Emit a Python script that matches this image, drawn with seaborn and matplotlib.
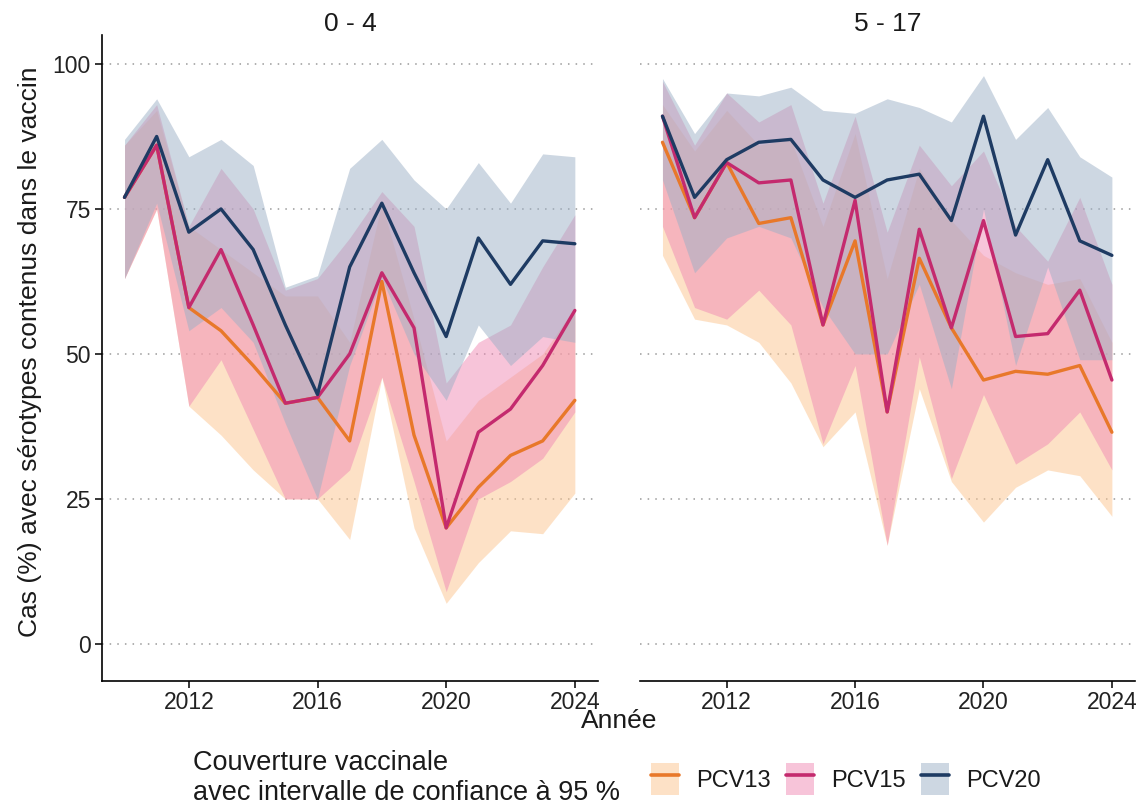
import numpy as np
import pandas as pd
import matplotlib
matplotlib.use("Agg")
import matplotlib.pyplot as plt
from matplotlib.lines import Line2D
from matplotlib.patches import Patch
import seaborn as sns

# --- data ---
years = list(range(2010, 2025))
groups = ["0 - 4", "5 - 17"]
vaccines = ["PCV13", "PCV15", "PCV20"]

# 0 - 4 ans
pcv13_04 = [77, 86, 58, 54, 48, 41.5, 42.5, 35, 62.5, 36, 20, 27, 32.5, 35, 42]
pcv13_04_lo = [63, 75, 41, 36, 30, 25, 25, 18, 46, 20, 7, 14, 19.5, 19, 26]
pcv13_04_hi = [86, 92, 72, 68, 64, 60, 60, 52, 76, 56, 35, 42, 46, 50, 58]
pcv15_04 = [77, 86, 58, 68, 55, 41.5, 42.5, 50, 64, 54.5, 20, 36.5, 40.5, 48, 57.5]
pcv15_04_lo = [63, 75, 41, 49, 37, 25, 25, 30, 46, 28, 9, 25, 28, 32, 40]
pcv15_04_hi = [86, 93, 72, 82, 75, 61, 63, 70, 78, 72, 45, 52, 55, 65, 74]
pcv20_04 = [77, 87.5, 71, 75, 68, 55, 43, 65, 76, 64, 53, 70, 62, 69.5, 69]
pcv20_04_lo = [63, 76, 54, 58, 52, 38, 25, 48, 63, 50, 42, 55, 48, 53, 52]
pcv20_04_hi = [87, 94, 84, 87, 82.5, 61.5, 63.5, 82, 87, 80, 75, 83, 76, 84.5, 84]

# 5 - 17 ans
pcv13_517 = [86.5, 73.5, 83, 72.5, 73.5, 55, 69.5, 40, 66.5, 54.5, 45.5, 47, 46.5, 48, 36.5]
pcv13_517_lo = [67, 56, 55, 52, 45, 34, 40, 17, 44, 28, 21, 27, 30, 29, 22]
pcv13_517_hi = [93, 85, 92, 86, 87, 72, 88, 63, 82, 73, 67, 64, 62, 63, 52]
pcv15_517 = [91, 73.5, 83, 79.5, 80, 55, 76.5, 40, 71.5, 54.5, 73, 53, 53.5, 61, 45.5]
pcv15_517_lo = [72, 58, 56, 61, 55, 34.5, 48, 17, 49.5, 28.5, 43, 31, 34.5, 40, 30]
pcv15_517_hi = [97, 86, 95, 90, 93, 76, 91, 71, 86, 79, 85, 72, 66, 77, 62]
pcv20_517 = [91, 77, 83.5, 86.5, 87, 80, 77, 80, 81, 73, 91, 70.5, 83.5, 69.5, 67]
pcv20_517_lo = [80, 64, 70, 72, 70, 58, 50, 50, 62, 44, 75, 48, 65, 49, 49]
pcv20_517_hi = [97.5, 88, 95, 94.5, 96, 92, 91.5, 94, 92.5, 90, 98, 87, 92.5, 84, 80.5]

line_colors = {"PCV13": "#E8782A", "PCV15": "#C42A6E", "PCV20": "#1E3B63"}
band_colors = {"PCV13": "#FCC58F", "PCV15": "#F08AB5", "PCV20": "#9CB0C6"}

series = {
    ("0 - 4", "PCV13"): (pcv13_04, pcv13_04_lo, pcv13_04_hi),
    ("0 - 4", "PCV15"): (pcv15_04, pcv15_04_lo, pcv15_04_hi),
    ("0 - 4", "PCV20"): (pcv20_04, pcv20_04_lo, pcv20_04_hi),
    ("5 - 17", "PCV13"): (pcv13_517, pcv13_517_lo, pcv13_517_hi),
    ("5 - 17", "PCV15"): (pcv15_517, pcv15_517_lo, pcv15_517_hi),
    ("5 - 17", "PCV20"): (pcv20_517, pcv20_517_lo, pcv20_517_hi),
}

rows = []
for (grp, vac), (val, lo, hi) in series.items():
    for y, v, l, h in zip(years, val, lo, hi):
        rows.append({"groupe": grp, "vaccin": vac, "annee": y, "val": v, "lo": l, "hi": h})
df = pd.DataFrame(rows)

sns.set_theme(style="white")
plt.rcParams["font.family"] = ["Liberation Sans", "DejaVu Sans"]

W, H = 1142, 806
fig = plt.figure(figsize=(W / 100, H / 100), dpi=100)
ax_l = fig.add_axes([102 / W, 1 - 681 / H, 496 / W, 646 / H])
ax_r = fig.add_axes([640 / W, 1 - 681 / H, 495 / W, 646 / H])

band_alpha = 0.5
for ax, grp in zip([ax_l, ax_r], groups):
    sub = df[df["groupe"] == grp]
    for vac in vaccines:
        d = sub[sub["vaccin"] == vac]
        ax.fill_between(d["annee"], d["lo"], d["hi"], color=band_colors[vac],
                        alpha=band_alpha, linewidth=0, zorder=1)
    sns.lineplot(data=sub, x="annee", y="val", hue="vaccin", palette=line_colors,
                 hue_order=vaccines, linewidth=2.4, legend=False, ax=ax, zorder=3)
    ax.set_xlim(2009.3, 2024.72)
    ax.set_ylim(-6.4, 105)
    ax.set_xticks([2012, 2016, 2020, 2024])
    ax.set_yticks([0, 25, 50, 75, 100])
    for yv in [0, 25, 50, 75, 100]:
        ax.axhline(yv, color="#9a9a9a", linestyle=(0, (1, 4)), linewidth=1.1, zorder=0)
    ax.set_title(grp, fontsize=19, pad=3, color="#1a1a1a")
    ax.set_xlabel("")
    ax.set_ylabel("")
    for s in ["top", "right"]:
        ax.spines[s].set_visible(False)
    ax.spines["bottom"].set_color("black")
    ax.spines["bottom"].set_linewidth(1.2)
    ax.tick_params(axis="x", length=5, width=1.1, color="black", labelsize=16.5,
                   labelcolor="#222222", bottom=True, pad=2)

ax_l.spines["left"].set_color("black")
ax_l.spines["left"].set_linewidth(1.2)
ax_l.tick_params(axis="y", length=5, width=1.1, color="black", labelsize=16.5,
                 labelcolor="#222222", left=True, pad=3)
ax_r.spines["left"].set_visible(False)
ax_r.tick_params(axis="y", left=False, labelleft=False)

fig.text(30 / W, 1 - 352 / H, "Cas (%) avec sérotypes contenus dans le vaccin",
         rotation=90, ha="center", va="center", fontsize=19, color="#1a1a1a")
fig.text(619 / W, 1 - 721 / H, "Année", ha="center", va="center", fontsize=19,
         color="#1a1a1a")

fig.text(193 / W, 1 - 778 / H, "Couverture vaccinale\navec intervalle de confiance à 95 %",
         ha="left", va="center", fontsize=19.5, linespacing=1.2, color="#1a1a1a")

handles = [(Patch(facecolor=band_colors[v], alpha=band_alpha, edgecolor="none"),
            Line2D([0], [0], color=line_colors[v], linewidth=2.6)) for v in vaccines]
fig.legend(handles, vaccines, loc="center left", bbox_to_anchor=(651 / W, 1 - 779 / H),
           ncol=3, frameon=False, fontsize=17, handlelength=1.2, handleheight=1.65,
           columnspacing=0.64, handletextpad=0.72, borderaxespad=0, borderpad=0,
           labelcolor="#1a1a1a")

fig.savefig("out.png", dpi=100)
